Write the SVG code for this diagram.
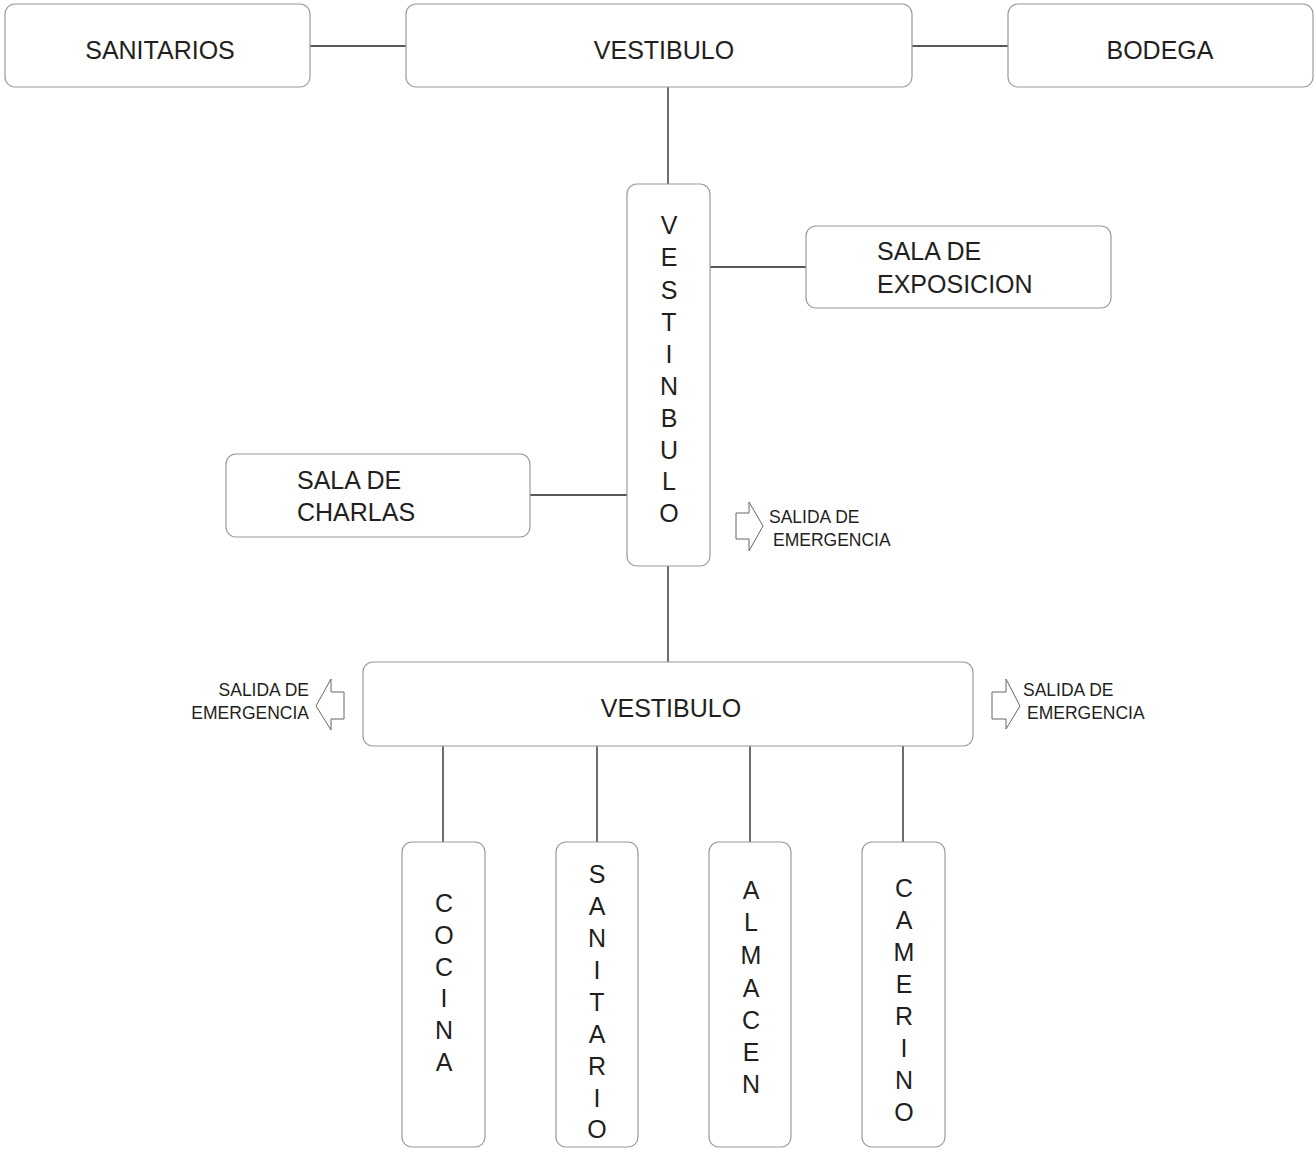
<svg xmlns="http://www.w3.org/2000/svg" width="1314" height="1149" viewBox="0 0 1314 1149">
<style>
.box{fill:#fff;stroke:#9a9a9a;stroke-width:1.2}
.t{font-family:"Liberation Sans",Arial,sans-serif;font-size:25px;fill:#231f20}
.v{font-family:"Liberation Sans",Arial,sans-serif;font-size:25px;fill:#231f20;text-anchor:middle}
.s{font-family:"Liberation Sans",Arial,sans-serif;font-size:17.5px;fill:#231f20}
.c{stroke:#231f20;stroke-width:1.3;fill:none}
.arr{fill:#fff;stroke:#666;stroke-width:1}
</style>
<rect width="1314" height="1149" fill="#fff"/>
<g id="connectors">
<line class="c" x1="310" y1="46" x2="406" y2="46"/>
<line class="c" x1="912" y1="46" x2="1008" y2="46"/>
<line class="c" x1="668" y1="87" x2="668" y2="184"/>
<line class="c" x1="710" y1="267" x2="806" y2="267"/>
<line class="c" x1="530" y1="495" x2="627" y2="495"/>
<line class="c" x1="668" y1="566" x2="668" y2="662"/>
<line class="c" x1="443" y1="746" x2="443" y2="842"/>
<line class="c" x1="597" y1="746" x2="597" y2="842"/>
<line class="c" x1="750" y1="746" x2="750" y2="842"/>
<line class="c" x1="903" y1="746" x2="903" y2="842"/>
</g>
<g id="sanitarios">
<rect class="box" x="5" y="4" width="305" height="83" rx="10"/>
<text class="t" x="160" y="59" text-anchor="middle">SANITARIOS</text>
</g>
<g id="vestibulo-top">
<rect class="box" x="406" y="4" width="506" height="83" rx="10"/>
<text class="t" x="664" y="59" text-anchor="middle">VESTIBULO</text>
</g>
<g id="bodega">
<rect class="box" x="1008" y="4" width="305" height="83" rx="10"/>
<text class="t" x="1160" y="59" text-anchor="middle">BODEGA</text>
</g>
<g id="vestinbulo">
<rect class="box" x="627" y="184" width="83" height="382" rx="10"/>
<text class="v" x="669" y="234">V</text>
<text class="v" x="669" y="266">E</text>
<text class="v" x="669" y="299">S</text>
<text class="v" x="669" y="331">T</text>
<text class="v" x="669" y="363">I</text>
<text class="v" x="669" y="395">N</text>
<text class="v" x="669" y="427">B</text>
<text class="v" x="669" y="459">U</text>
<text class="v" x="669" y="490">L</text>
<text class="v" x="669" y="522">O</text>
</g>
<g id="sala-exposicion">
<rect class="box" x="806" y="226" width="305" height="82" rx="10"/>
<text class="t" x="877" y="260">SALA DE</text>
<text class="t" x="877" y="293">EXPOSICION</text>
</g>
<g id="sala-charlas">
<rect class="box" x="226" y="454" width="304" height="83" rx="10"/>
<text class="t" x="297" y="489">SALA DE</text>
<text class="t" x="297" y="521">CHARLAS</text>
</g>
<g id="salida-1">
<polygon class="arr" points="736,513 749,513 749,502 763,526 749,551 749,539 736,539"/>
<text class="s" x="769" y="523">SALIDA DE</text>
<text class="s" x="773" y="546">EMERGENCIA</text>
</g>
<g id="vestibulo-bottom">
<rect class="box" x="363" y="662" width="610" height="84" rx="10"/>
<text class="t" x="671" y="717" text-anchor="middle">VESTIBULO</text>
</g>
<g id="salida-2">
<polygon class="arr" points="344,692 331,692 331,679 316,706 331,730 331,719 344,719"/>
<text class="s" x="309" y="696" text-anchor="end">SALIDA DE</text>
<text class="s" x="309" y="719" text-anchor="end">EMERGENCIA</text>
</g>
<g id="salida-3">
<polygon class="arr" points="992,692 1006,692 1006,679 1020,706 1006,729 1006,719 992,719"/>
<text class="s" x="1023" y="696">SALIDA DE</text>
<text class="s" x="1027" y="719">EMERGENCIA</text>
</g>
<g id="cocina">
<rect class="box" x="402" y="842" width="83" height="305" rx="10"/>
<text class="v" x="444" y="912">C</text>
<text class="v" x="444" y="944">O</text>
<text class="v" x="444" y="976">C</text>
<text class="v" x="444" y="1007">I</text>
<text class="v" x="444" y="1039">N</text>
<text class="v" x="444" y="1071">A</text>
</g>
<g id="sanitario">
<rect class="box" x="556" y="842" width="82" height="305" rx="10"/>
<text class="v" x="597" y="883">S</text>
<text class="v" x="597" y="915">A</text>
<text class="v" x="597" y="947">N</text>
<text class="v" x="597" y="979">I</text>
<text class="v" x="597" y="1011">T</text>
<text class="v" x="597" y="1043">A</text>
<text class="v" x="597" y="1075">R</text>
<text class="v" x="597" y="1107">I</text>
<text class="v" x="597" y="1138">O</text>
</g>
<g id="almacen">
<rect class="box" x="709" y="842" width="82" height="305" rx="10"/>
<text class="v" x="751" y="899">A</text>
<text class="v" x="751" y="931">L</text>
<text class="v" x="751" y="964">M</text>
<text class="v" x="751" y="997">A</text>
<text class="v" x="751" y="1029">C</text>
<text class="v" x="751" y="1061">E</text>
<text class="v" x="751" y="1093">N</text>
</g>
<g id="camerino">
<rect class="box" x="862" y="842" width="83" height="305" rx="10"/>
<text class="v" x="904" y="897">C</text>
<text class="v" x="904" y="929">A</text>
<text class="v" x="904" y="961">M</text>
<text class="v" x="904" y="993">E</text>
<text class="v" x="904" y="1025">R</text>
<text class="v" x="904" y="1057">I</text>
<text class="v" x="904" y="1089">N</text>
<text class="v" x="904" y="1121">O</text>
</g>
</svg>
